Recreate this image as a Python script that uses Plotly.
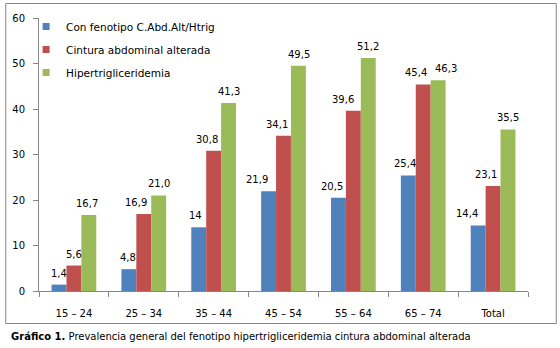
import plotly.graph_objects as go

categories = ["15 – 24", "25 – 34", "35 – 44", "45 – 54", "55 – 64", "65 – 74", "Total"]
fenotipo = [1.4, 4.8, 14, 21.9, 20.5, 25.4, 14.4]
cintura = [5.6, 16.9, 30.8, 34.1, 39.6, 45.4, 23.1]
hipertrig = [16.7, 21.0, 41.3, 49.5, 51.2, 46.3, 35.5]
fenotipo_lbl = ["1,4", "4,8", "14", "21,9", "20,5", "25,4", "14,4"]
cintura_lbl = ["5,6", "16,9", "30,8", "34,1", "39,6", "45,4", "23,1"]
hipertrig_lbl = ["16,7", "21,0", "41,3", "49,5", "51,2", "46,3", "35,5"]
names = ["Con fenotipo C.Abd.Alt/Htrig", "Cintura abdominal alterada", "Hipertrigliceridemia"]
colors = ["#4F81BD", "#C0504D", "#9BBB59"]

# label placement nudges (px), like the reference's de-overlapped data labels
nudges = [
    [0, -1, -3, -12, -6, -3, -11],
    [0, -8, -7, -7, -10, -7, -7],
    [-2, 0, 0, 0, 0, 8, 0],
]
bar_px = 15  # width of one bar in pixels, used to centre labels over bars

FONT = "DejaVu Sans"
L, R, T, B = 35, 32, 18, 57
pw = 560 - L - R
ph = 348 - T - B

def px2x(px):
    return (px - L) / pw

def px2y(py):
    return (348 - B - py) / ph

fig = go.Figure()
series = [(fenotipo, fenotipo_lbl), (cintura, cintura_lbl), (hipertrig, hipertrig_lbl)]
annotations = []
for i, (vals, lbls) in enumerate(series):
    fig.add_trace(go.Bar(
        x=categories, y=vals, name=names[i], marker_color=colors[i],
        marker_line_width=0, showlegend=False,
    ))
    fig.add_trace(go.Scatter(
        x=[None], y=[None], mode="markers", name=names[i],
        marker=dict(symbol="square", size=7, color=colors[i]),
        legendgroup=str(i),
    ))
    for j, (c, v, t) in enumerate(zip(categories, vals, lbls)):
        annotations.append(dict(
            x=c, y=v, xref="x", yref="y", text=t, showarrow=False,
            xanchor="center", yanchor="bottom",
            xshift=(i - 1) * bar_px + nudges[i][j], yshift=4,
            font=dict(family=FONT, size=10, color="#000"),
        ))

annotations.append(dict(
    xref="paper", yref="paper", x=px2x(5), y=px2y(336),
    xanchor="left", yanchor="middle", showarrow=False,
    text="<b>Gráfico 1.</b> Prevalencia general del fenotipo hipertrigliceridemia cintura abdominal alterada",
    font=dict(family=FONT, size=10, color="#000")))

fig.update_layout(
    width=560, height=348,
    margin=dict(l=L, r=R, t=T, b=B),
    paper_bgcolor="white", plot_bgcolor="white",
    barmode="group", bargap=0.36, bargroupgap=0,
    font=dict(family=FONT, size=10, color="#000"),
    showlegend=True,
    legend=dict(x=px2x(22), y=px2y(12), xanchor="left", yanchor="top",
                traceorder="grouped", tracegroupgap=4,
                font=dict(family=FONT, size=10.5, color="#000"),
                bgcolor="rgba(0,0,0,0)", itemwidth=30),
    xaxis=dict(showline=True, linecolor="#868686", linewidth=1,
               ticks="outside", ticklen=5, tickcolor="#868686",
               tickson="boundaries", showgrid=False, ticklabelstandoff=13,
               tickfont=dict(family=FONT, size=10, color="#000")),
    yaxis=dict(range=[0, 60], dtick=10, showline=True, linecolor="#868686",
               linewidth=1, ticks="outside", ticklen=5, tickcolor="#868686",
               showgrid=False, zeroline=False, ticklabelstandoff=6,
               tickfont=dict(family=FONT, size=10, color="#000")),
    shapes=[dict(type="rect", xref="paper", yref="paper",
                 x0=px2x(1.5), x1=px2x(556.5), y0=px2y(323.5), y1=px2y(3.5),
                 line=dict(color="#868686", width=1), fillcolor="rgba(0,0,0,0)",
                 layer="below")],
    annotations=annotations,
)

fig.write_html("out.html")
